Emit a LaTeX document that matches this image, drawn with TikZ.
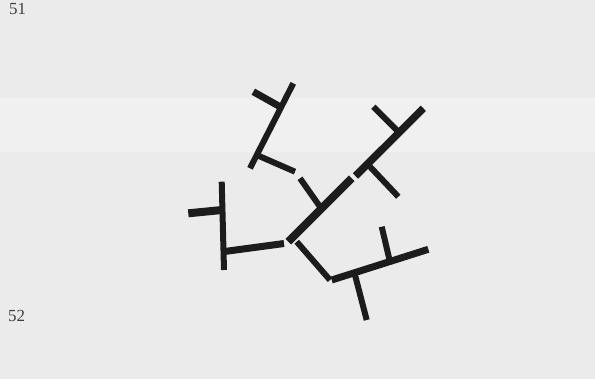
\documentclass[tikz,border=0pt]{standalone}
\usepackage{fontspec}
\setmainfont{Liberation Serif}
\begin{document}
\begin{tikzpicture}[x=1bp,y=-1bp,
  branch/.style={line width=7bp,draw=ink,line cap=butt},
  thin/.style={line width=6bp,draw=ink,line cap=butt},
  pagenum/.style={font=\fontsize{17}{17}\selectfont,text=ink!85,inner sep=0pt,anchor=west}]
\definecolor{paper}{HTML}{EBEBEB}
\definecolor{band}{HTML}{F0F0F0}
\definecolor{ink}{HTML}{1C1C1C}
\path[use as bounding box] (0,0) rectangle (595,379);
\fill[paper] (0,0) rectangle (595,379);
\fill[band] (0,98) rectangle (595,152);
% page numbers
\node[pagenum] (n51) at (9,9) {51};
\node[pagenum] (n52) at (8,316) {52};
% coordinates
\coordinate (J) at (288.3,241.7);
\coordinate (M1) at (351.7,178.3);
\coordinate (M2) at (355.5,176);
\coordinate (MT) at (423.3,108.3);
\coordinate (Ma) at (396.7,130);
\coordinate (Mae) at (373.3,106.7);
\coordinate (Mb) at (370,166.7);
\coordinate (Mbe) at (398.3,196.7);
\coordinate (Mc) at (320,206.7);
\coordinate (Mce) at (300,178.3);
% upper left subtree
\coordinate (U1) at (250,168.3);
\coordinate (U2) at (293.3,83.3);
\coordinate (Ua) at (280,106.7);
\coordinate (Uae) at (253.3,91.7);
\coordinate (Ub) at (259,156);
\coordinate (Ube) at (295,171.7);
% left subtree
\coordinate (L0) at (284,243.5);
\coordinate (La) at (223,251.7);
\coordinate (LT) at (221.7,181.7);
\coordinate (LB) at (224,270);
\coordinate (Lb) at (222,210);
\coordinate (Lbe) at (188.3,213.3);
% lower right subtree
\coordinate (R0) at (296.7,241.7);
\coordinate (R1) at (330,280);
\coordinate (R2) at (331.7,280);
\coordinate (RE) at (428.3,249.3);
\coordinate (Ra) at (355,275);
\coordinate (Rae) at (366.7,320);
\coordinate (Rb) at (390,262);
\coordinate (Rbe) at (381.7,226.7);
% main trunk
\draw[branch,line width=8bp] (J) -- (M1);
\draw[branch,line width=7.5bp] (M2) -- (MT);
\draw[thin] (Ma) -- (Mae);
\draw[thin] (Mb) -- (Mbe);
\draw[thin] (Mc) -- (Mce);
% upper left
\draw[thin] (U1) -- (U2);
\draw[branch] (Ua) -- (Uae);
\draw[thin] (Ub) -- (Ube);
% left
\draw[branch] (L0) -- (La);
\draw[thin] (LT) -- (LB);
\draw[branch,line width=8bp] (Lb) -- (Lbe);
% lower right
\draw[thin] (R0) -- (R1);
\draw[branch] (R2) -- (RE);
\draw[thin] (Ra) -- (Rae);
\draw[thin] (Rb) -- (Rbe);
\end{tikzpicture}
\end{document}
